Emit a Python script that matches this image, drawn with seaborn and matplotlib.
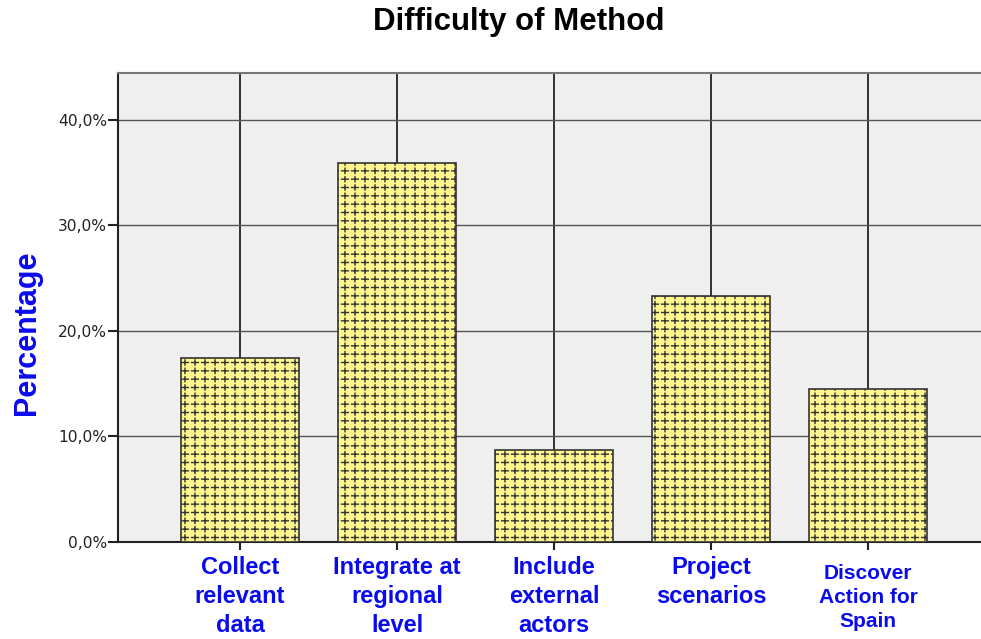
import numpy as np
import matplotlib
matplotlib.use("Agg")
import matplotlib.pyplot as plt
import matplotlib.hatch as mhatch
from matplotlib.path import Path
from matplotlib.ticker import FuncFormatter, MultipleLocator
import matplotlib.transforms as mtransforms
import seaborn as sns

# ---- data ----
categories = ["Collect\nrelevant\ndata", "Integrate at\nregional\nlevel",
              "Include\nexternal\nactors", "Project\nscenarios",
              "Discover\nAction for\nSpain"]
percentages = [17.4, 35.9, 8.7, 23.3, 14.5]
title_text = "Difficulty of Method"
ylabel_text = "Percentage"


# ---- custom hatch: small separated plus signs ----
class SmallCrosses(mhatch.HatchPatternBase):
    def __init__(self, hatch, density):
        n = hatch.count('+')
        self.cols = 10 * n
        self.rows = 12 * n
        self.num_vertices = self.cols * self.rows * 4 if n else 0

    def set_vertices_and_codes(self, vertices, codes):
        ah = 0.034
        av = 0.026
        k = 0
        for j in range(self.rows):
            y = (j + 0.5) / self.rows
            for i in range(self.cols):
                x = (i + 0.5) / self.cols
                vertices[k:k + 4] = [(x - ah, y), (x + ah, y), (x, y - av), (x, y + av)]
                codes[k:k + 4] = [Path.MOVETO, Path.LINETO, Path.MOVETO, Path.LINETO]
                k += 4


mhatch._hatch_types = [SmallCrosses]

sns.set_theme(style="white")
plt.rcParams['font.family'] = ['Liberation Sans', 'DejaVu Sans']
plt.rcParams['hatch.linewidth'] = 1.0
plt.rcParams['hatch.color'] = '#111111'

fig = plt.figure(figsize=(9.81, 6.39), dpi=100)
ax = fig.add_axes([118 / 981, 1 - 542 / 639, 872 / 981, (542 - 73) / 639])
ax.set_facecolor('#efefef')

df_x = list(range(len(categories)))
sns.barplot(x=df_x, y=percentages, ax=ax, color='#fff68f', saturation=1,
            width=0.75, edgecolor='#333333', linewidth=1.2, hatch='+', zorder=3)

ax.set_xlim(-0.777, len(categories) - 1 + 0.777)
ax.set_ylim(0, 44.45)

# grid
ax.yaxis.set_major_locator(MultipleLocator(10))
ax.set_axisbelow(True)
ax.grid(axis='y', color='#555555', linewidth=1.0, zorder=0)
ax.grid(axis='x', color='#111111', linewidth=1.2, zorder=0)

for s in ['left', 'bottom']:
    ax.spines[s].set_color('#222222')
    ax.spines[s].set_linewidth(1.5)
ax.spines['top'].set_color('#777777')
ax.spines['top'].set_linewidth(1.5)
ax.spines['right'].set_visible(False)

ax.yaxis.set_major_formatter(FuncFormatter(lambda v, p: f"{v:.1f}%".replace('.', ',')))
ax.tick_params(axis='y', direction='out', length=7, width=1.5, color='#222222',
               labelsize=11.2, labelcolor='#222222', pad=1, left=True)
for lab in ax.get_yticklabels():
    lab.set_fontfamily('DejaVu Sans')
ax.tick_params(axis='x', direction='out', length=6, width=1.5, color='#222222',
               bottom=True, labelbottom=False)
ax.set_xlabel('')
ax.set_ylabel('')

# category labels
trans = mtransforms.blended_transform_factory(ax.transData, ax.transAxes)
for i, lab in enumerate(categories):
    small = i == len(categories) - 1
    off = -22 if small else -14
    ax.text(i, 0, lab, transform=trans + mtransforms.ScaledTranslation(0, off / 100, fig.dpi_scale_trans),
            ha='center', va='top', color='#0a0aee', fontweight='bold',
            fontsize=15 if small else 17, linespacing=1.33 if small else 1.32,
            multialignment='center')

fig.text(518.5 / 981, 1 - 22 / 639, title_text, ha='center', va='center',
         fontsize=22.5, fontweight='bold', color='black')
fig.text(27 / 981, 1 - 333 / 639, ylabel_text, ha='center', va='center', rotation=90,
         fontsize=22, fontweight='bold', color='#0a0aee')

fig.savefig('out.png', dpi=100)
